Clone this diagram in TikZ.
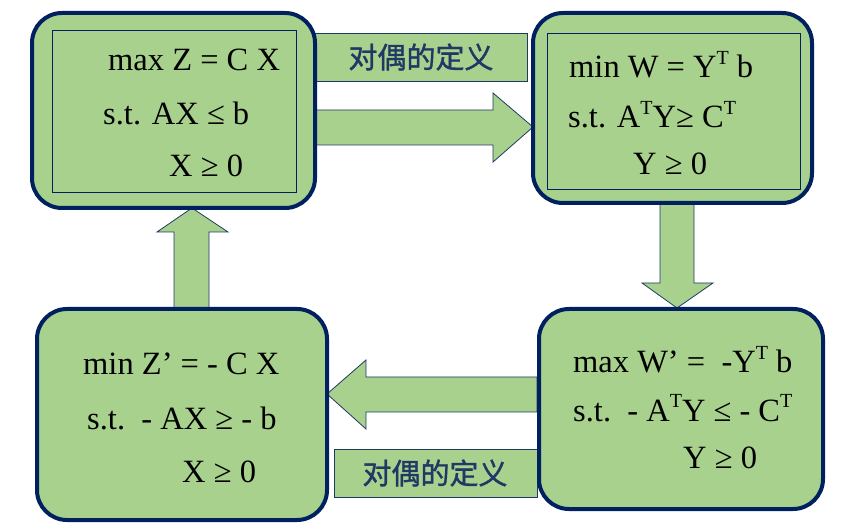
\documentclass[tikz,border=0pt]{standalone}
\usepackage{fontspec}
\setmainfont{Liberation Serif}
\newfontfamily\cjk[FakeBold=1.2]{Noto Sans CJK SC}
\definecolor{boxgreen}{HTML}{A9D18E}
\definecolor{navy}{HTML}{002060}
\definecolor{labnavy}{HTML}{1F3864}
\newcommand\supT{\raisebox{0.42em}{\fontsize{20}{20}\selectfont T}}
\begin{document}
\begin{tikzpicture}[x=1pt,y=-1pt,
  bigbox/.style={draw=navy,line width=4pt,fill=boxgreen,rounded corners=30pt},
  innerbox/.style={draw=navy,line width=0.9pt},
  blockarrow/.style={draw=labnavy,line width=0.8pt,fill=boxgreen,line join=miter},
  labbox/.style={draw=labnavy,line width=0.8pt,fill=boxgreen},
  eq/.style={anchor=base west,inner sep=0pt,font=\fontsize{32.5}{38}\selectfont},
  lab/.style={inner sep=0pt,text=labnavy,font=\cjk\fontsize{29}{33}\selectfont}]
\useasboundingbox (0,0) rectangle (852,529);
% block arrows (drawn first, under the boxes)
\draw[blockarrow] (315,110) -- (493,110) -- (493,93) -- (533,127) -- (493,162) -- (493,145) -- (315,145) -- cycle;
\draw[blockarrow] (660,201) -- (694,201) -- (694,283) -- (713,283) -- (677,308) -- (642,283) -- (660,283) -- cycle;
\draw[blockarrow] (537,377) -- (366,377) -- (366,360) -- (327,394) -- (366,429) -- (366,412) -- (537,412) -- cycle;
\draw[blockarrow] (174,308) -- (174,232) -- (157,232) -- (192,208) -- (228,232) -- (209,232) -- (209,308) -- cycle;
% label boxes
\draw[labbox] (315,33) rectangle (527,81);
\node[lab] (labtop) at (421,57) {对偶的定义};
\draw[labbox] (334,449) rectangle (537,497);
\node[lab] (labbot) at (435,473) {对偶的定义};
% boxes
\draw[bigbox] (32,13) rectangle (315,208);
\draw[innerbox] (52,30) rectangle (296,192);
\draw[bigbox] (533,13) rectangle (812,203);
\draw[innerbox] (547,33) rectangle (800,189);
\draw[bigbox] (37,309) rectangle (327,520);
\draw[bigbox] (539,309) rectangle (823,509);
% top-left text
\node[eq] (tl1) at (108,71) {max Z = C X};
\node[eq] (tl2) at (103,125) {s.t. AX ≤ b};
\node[eq] (tl3) at (169,177) {X ≥ 0};
% top-right text
\node[eq] (tr1) at (569,78) {min W = Y\supT\ b};
\node[eq] (tr2) at (568,128) {s.t. A\supT Y≥ C\supT};
\node[eq] (tr3) at (633,175) {Y ≥ 0};
% bottom-left text
\node[eq] (bl1) at (83,375) {min Z’ = - C X};
\node[eq] (bl2) at (87,429) {s.t.\ \ - AX ≥ - b};
\node[eq] (bl3) at (182,482) {X ≥ 0};
% bottom-right text
\node[eq] (br1) at (573,373) {max W’ =\ \ -Y\supT\ b};
\node[eq] (br2) at (573,421) {s.t.\ \ - A\supT Y ≤ - C\supT};
\node[eq] (br3) at (683,468) {Y ≥ 0};
\end{tikzpicture}
\end{document}
